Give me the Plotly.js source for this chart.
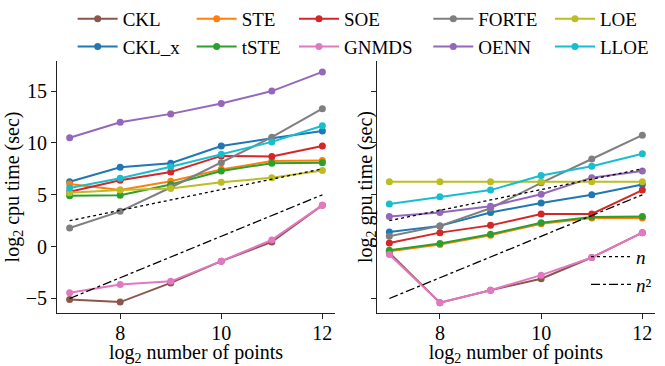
<!DOCTYPE html>
<html>
<head>
<meta charset="utf-8">
<script src="https://cdn.plot.ly/plotly-3.0.1.min.js"></script>
<style>html,body{margin:0;padding:0;background:#fff}#chart{width:665px;height:366px}</style>
</head>
<body>
<div id="chart"></div>
<script>
// ---- data (log2 number of points vs log2 time) ----
const logN = [7, 8, 9, 10, 11, 12];

const methods = ["CKL", "CKL_x", "STE", "tSTE", "SOE", "GNMDS", "FORTE", "OENN", "LOE", "LLOE"];
const methodLabels = ["CKL", "CKL_x", "STE", "tSTE", "SOE", "GNMDS", "FORTE", "OENN", "LOE", "LLOE"];
const methodColors = ["#8c564b", "#1f77b4", "#ff7f0e", "#2ca02c", "#d62728", "#e377c2", "#7f7f7f", "#9467bd", "#bcbd22", "#17becf"];

// CPU (left panel)
const cpuCKL   = [-5.1, -5.35, -3.5, -1.4, 0.45, 4.0];
const cpuCKLx  = [6.25, 7.65, 8.05, 9.7, 10.45, 11.15];
const cpuSTE   = [6.05, 5.45, 6.3, 7.45, 8.25, 8.3];
const cpuTSTE  = [4.9, 4.95, 6.0, 7.3, 8.05, 8.1];
const cpuSOE   = [5.3, 6.4, 7.2, 8.75, 8.7, 9.7];
const cpuGNMDS = [-4.45, -3.65, -3.35, -1.4, 0.65, 4.0];
const cpuFORTE = [1.8, 3.4, 5.7, 8.1, 10.55, 13.3];
const cpuOENN  = [10.5, 12.0, 12.8, 13.8, 15.0, 16.85];
const cpuLOE   = [5.2, 5.45, 5.6, 6.2, 6.65, 7.35];
const cpuLLOE  = [5.65, 6.6, 7.7, 8.9, 10.1, 11.65];

// GPU (right panel)
const gpuCKL   = [-0.6, -5.4, -4.2, -3.1, -1.05, 1.35];
const gpuCKLx  = [1.4, 2.0, 3.3, 4.2, 5.0, 6.0];
const gpuSTE   = [-0.45, 0.2, 1.1, 2.2, 2.75, 2.75];
const gpuTSTE  = [-0.35, 0.3, 1.2, 2.3, 2.85, 2.9];
const gpuSOE   = [0.35, 1.35, 2.05, 3.15, 3.15, 5.45];
const gpuGNMDS = [-0.75, -5.4, -4.2, -2.75, -1.05, 1.35];
const gpuFORTE = [1.0, 2.0, 3.7, 6.15, 8.45, 10.75];
const gpuOENN  = [2.9, 3.3, 3.9, 5.05, 6.65, 7.3];
const gpuLOE   = [6.25, 6.25, 6.25, 6.25, 6.25, 6.25];
const gpuLLOE  = [4.1, 4.8, 5.45, 6.85, 7.75, 8.95];

// reference growth lines
const refX   = [7, 12];
const refN   = [2.5, 7.5];
const refN2  = [-5, 5];
const refLabels = ["<i>n</i>", "<i>n</i>\u00B2"];

const xTickVals = [8, 10, 12];
const yTickVals = [-5, 0, 5, 10, 15];
const yTickText = ["\u22125", "0", "5", "10", "15"];

// ---- build ----
const cpuSeries = [cpuCKL, cpuCKLx, cpuSTE, cpuTSTE, cpuSOE, cpuGNMDS, cpuFORTE, cpuOENN, cpuLOE, cpuLLOE];
const gpuSeries = [gpuCKL, gpuCKLx, gpuSTE, gpuTSTE, gpuSOE, gpuGNMDS, gpuFORTE, gpuOENN, gpuLOE, gpuLLOE];
const legendIds = ["legend", "legend", "legend2", "legend2", "legend3", "legend3", "legend4", "legend4", "legend5", "legend5"];

const FONT = '"Liberation Serif", serif';
const traces = [];
methods.forEach((m, i) => {
  traces.push({
    x: logN, y: cpuSeries[i], xaxis: "x", yaxis: "y", type: "scatter", mode: "lines+markers",
    name: methodLabels[i], legend: legendIds[i], showlegend: true,
    line: {color: methodColors[i], width: 2}, marker: {color: methodColors[i], size: 7}
  });
});
methods.forEach((m, i) => {
  traces.push({
    x: logN, y: gpuSeries[i], xaxis: "x2", yaxis: "y2", type: "scatter", mode: "lines+markers",
    name: methodLabels[i], showlegend: false,
    line: {color: methodColors[i], width: 2}, marker: {color: methodColors[i], size: 7}
  });
});
[["x", "y", false], ["x2", "y2", true]].forEach(([xa, ya, show]) => {
  traces.push({x: refX, y: refN, xaxis: xa, yaxis: ya, mode: "lines", name: refLabels[0],
    legend: "legend6", showlegend: show, line: {color: "#000", width: 1.3, dash: "dot"}});
  traces.push({x: refX, y: refN2, xaxis: xa, yaxis: ya, mode: "lines", name: refLabels[1],
    legend: "legend6", showlegend: show, line: {color: "#000", width: 1.3, dash: "dashdot"}});
});
// invisible carrier so the title-only axis of the right panel is created
traces.push({x: refX, y: refN, xaxis: "x2", yaxis: "y3", mode: "lines", opacity: 0,
  line: {width: 0}, showlegend: false, hoverinfo: "skip"});

const axBase = {
  showgrid: false, zeroline: false, showline: true, linecolor: "#222", linewidth: 1,
  ticks: "outside", ticklen: 5, tickwidth: 1, tickcolor: "#222",
  tickfont: {family: FONT, size: 20, color: "#000"}, mirror: false
};
const titleFont = {family: FONT, size: 20, color: "#000"};
const legBase = {
  orientation: "v", bgcolor: "rgba(0,0,0,0)", borderwidth: 0, itemwidth: 40,
  font: {family: FONT, size: 19, color: "#000"}, xanchor: "left", yanchor: "top",
  itemclick: false, itemdoubleclick: false, tracegroupgap: 0
};
const legTop = 1.242;
const yRange = [-6.4, 17.9];

const layout = {
  width: 665, height: 366,
  margin: {l: 57, r: 10, t: 61, b: 53, autoexpand: false},
  paper_bgcolor: "#fff", plot_bgcolor: "#fff",
  font: {family: FONT, color: "#000"},
  showlegend: true,
  xaxis: Object.assign({}, axBase, {domain: [0, 0.4649], range: [6.75, 12.25], tickvals: xTickVals,
    ticklabelstandoff: -3,
    title: {text: "log<sub>2</sub> number of points", font: titleFont, standoff: 0}}),
  xaxis2: Object.assign({}, axBase, {domain: [0.5346, 1], range: [6.75, 12.25], tickvals: xTickVals, anchor: "y2",
    ticklabelstandoff: -3,
    title: {text: "log<sub>2</sub> number of points", font: titleFont, standoff: 0}}),
  yaxis: Object.assign({}, axBase, {range: yRange, tickvals: yTickVals, ticktext: yTickText,
    title: {text: "log<sub>2</sub> cpu time (sec)", font: titleFont, standoff: 0}}),
  yaxis2: Object.assign({}, axBase, {range: yRange, tickvals: yTickVals, showticklabels: false, anchor: "x2"}),
  // title-only axis for the right panel (sits just beside the panel's spine)
  yaxis3: {overlaying: "y2", anchor: "free", position: 0.5396, range: yRange, showline: false, showgrid: false,
    zeroline: false, ticks: "", showticklabels: false,
    title: {text: "log<sub>2</sub> gpu time (sec)", font: titleFont, standoff: 0}},
  legend:  Object.assign({}, legBase, {x: 0.0262, y: legTop}),
  legend2: Object.assign({}, legBase, {x: 0.2252, y: legTop}),
  legend3: Object.assign({}, legBase, {x: 0.3963, y: legTop}),
  legend4: Object.assign({}, legBase, {x: 0.6209, y: legTop}),
  legend5: Object.assign({}, legBase, {x: 0.8244, y: legTop}),
  legend6: Object.assign({}, legBase, {x: 0.8846, y: 0.2985})
};

Plotly.newPlot("chart", traces, layout, {staticPlot: true, displayModeBar: false});
</script>
</body>
</html>
